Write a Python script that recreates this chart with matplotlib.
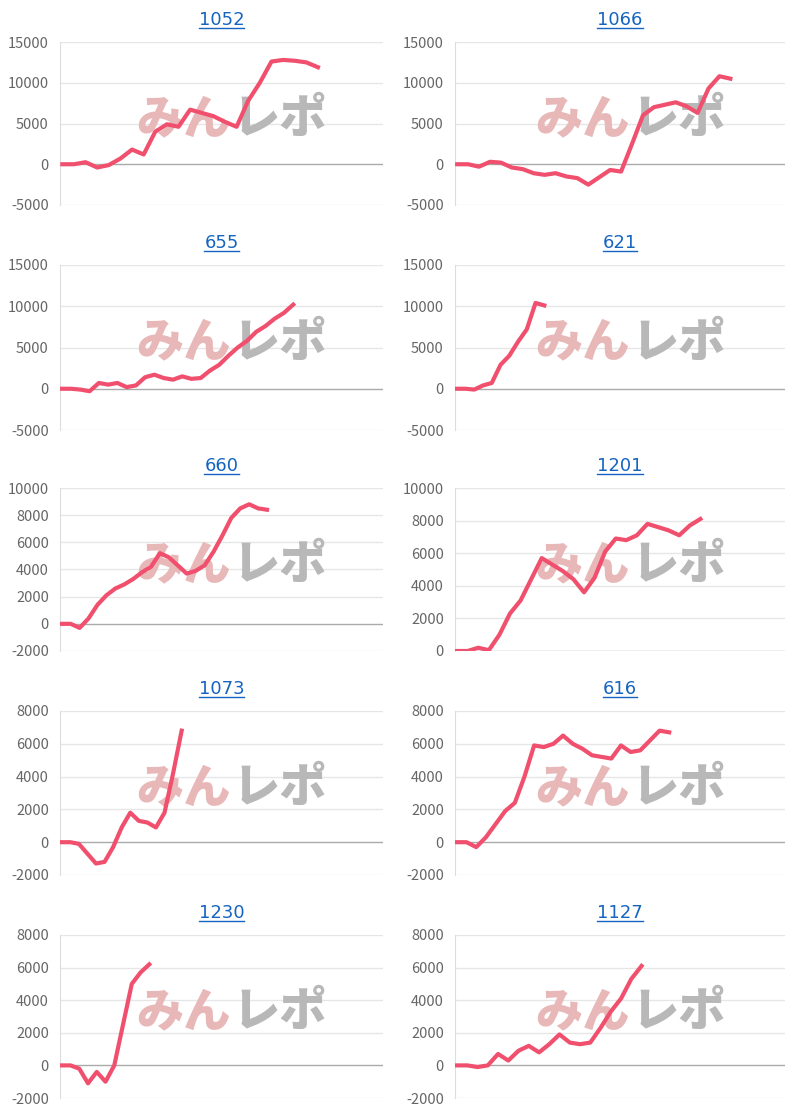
import matplotlib
matplotlib.use("Agg")
import matplotlib.pyplot as plt

titles = ["1052", "1066", "655", "621", "660", "1201", "1073", "616", "1230", "1127"]
series = [
    [0, 0, 250, -400, -100, 700, 1800, 1200, 4000, 4900, 4600, 6700, 6300, 5900, 5200, 4600, 7800, 10000, 12600, 12800, 12700, 12500, 11900],
    [0, 0, -300, 300, 200, -400, -600, -1100, -1300, -1100, -1500, -1700, -2500, -1600, -700, -900, 2500, 6000, 7000, 7300, 7600, 7100, 6300, 9300, 10800, 10500],
    [0, 0, -100, -300, 700, 500, 700, 200, 400, 1400, 1700, 1300, 1100, 1500, 1200, 1300, 2200, 2900, 4000, 5000, 5800, 6900, 7600, 8500, 9200, 10200],
    [0, 0, -100, 400, 700, 2900, 4000, 5700, 7200, 10400, 10100],
    [0, 0, -300, 400, 1400, 2100, 2600, 2900, 3300, 3800, 4200, 5200, 4900, 4300, 3700, 3900, 4300, 5300, 6500, 7800, 8500, 8800, 8500, 8400],
    [0, 0, 200, 50, 1000, 2300, 3100, 4400, 5700, 5300, 4900, 4400, 3600, 4500, 6100, 6900, 6800, 7100, 7800, 7600, 7400, 7100, 7700, 8100],
    [0, 0, -100, -700, -1300, -1200, -300, 900, 1800, 1300, 1200, 900, 1800, 4200, 6800],
    [0, 0, -300, 300, 1100, 1900, 2400, 4000, 5900, 5800, 6000, 6500, 6000, 5700, 5300, 5200, 5100, 5900, 5500, 5600, 6200, 6800, 6700],
    [0, 0, -200, -1100, -400, -1000, 0, 2500, 5000, 5700, 6200],
    [0, 0, -100, 0, 700, 300, 900, 1200, 800, 1300, 1900, 1400, 1300, 1400, 2300, 3300, 4100, 5300, 6100],
]
x_slots = [27.6, 30, 34.7, 37.5, 36, 31, 37.5, 34, 36.7, 32]
y_ranges = [(-5000, 15000, 5000)] * 4 + [(-2000, 10000, 2000), (0, 10000, 2000)] + [(-2000, 8000, 2000)] * 4

plt.rcParams['font.family'] = ['Noto Sans CJK JP', 'DejaVu Sans']
fig = plt.figure(figsize=(8.06, 11.15), dpi=100)
W, H = 806, 1115
col_x = [(60, 383), (455, 785)]
row_y = [(42, 205), (265, 430), (488, 651), (711, 875), (935, 1098)]

for i, (t, vals) in enumerate(zip(titles, series)):
    r, c = divmod(i, 2)
    x0, x1 = col_x[c]
    yt, yb = row_y[r]
    ax = fig.add_axes([x0 / W, 1 - yb / H, (x1 - x0) / W, (yb - yt) / H])
    lo, hi, st = y_ranges[i]
    ax.set_ylim(lo, hi)
    ax.set_xlim(-0.2, x_slots[i])
    ticks = list(range(lo, hi + 1, st))
    ax.set_yticks(ticks)
    ax.set_yticklabels([str(v) for v in ticks], color="#666666", fontsize=10.5)
    ax.set_xticks([])
    ax.tick_params(axis='y', length=0, pad=8)
    for s in ["top", "right", "bottom"]:
        ax.spines[s].set_visible(False)
    ax.spines["left"].set_color("#dddddd")
    for v in ticks:
        ax.axhline(v, color="#aaaaaa" if v == 0 else "#e6e6e6", lw=1, zorder=0)
    ax.text(0.53, 0.53, "みん", transform=ax.transAxes, fontsize=34, fontweight="black",
            style="italic", color="#e8b8b8", ha="right", va="center", zorder=1)
    ax.text(0.535, 0.53, "レポ", transform=ax.transAxes, fontsize=34, fontweight="black",
            style="italic", color="#b8b8b8", ha="left", va="center", zorder=1)
    ax.plot(range(len(vals)), vals, color="#f0506e", lw=3, zorder=3, solid_joinstyle="round")
    ax.set_title(t, color="#1565c0", fontsize=13, pad=12, fontfamily="DejaVu Sans")

fig.canvas.draw()
rend = fig.canvas.get_renderer()
for ax in fig.axes:
    bb = ax.title.get_window_extent(rend)
    fig.add_artist(plt.Line2D([bb.x0 / W, bb.x1 / W], [(bb.y0 + 1) / H] * 2, color="#1565c0", lw=1))

fig.savefig("out.png", dpi=100)
